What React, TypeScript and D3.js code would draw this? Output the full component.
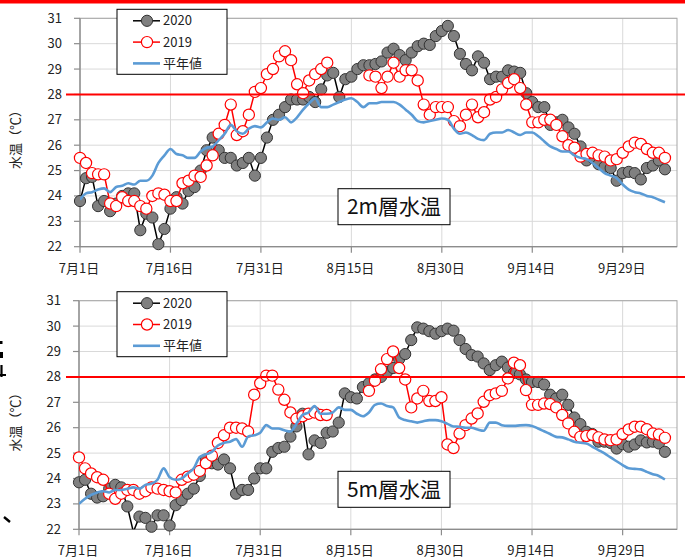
import React from "react";
import * as d3 from "d3";

// x axis: day index from 7月1日
const tickDays = [0, 15, 30, 45, 60, 75, 90];
const tickLabels = ["7月1日", "7月16日", "7月31日", "8月15日", "8月30日", "9月14日", "9月29日"];
const yTicks = [22, 23, 24, 25, 26, 27, 28, 29, 30, 31];
const seriesNames = ["2020", "2019", "平年値"];
const warnLine = 28;

// 2m層
const top2020 = [
  23.8, 24.7, 24.75, 23.6, 23.8, 23.4, 23.7, 24.0, 24.1, 24.1,
  22.65, 23.3, 23.15, 22.1, 22.7, 23.5, 23.95, 23.7, 24.2, 24.35,
  25.0, 25.8, 26.3, 25.8, 25.5, 25.5, 25.2, 25.3, 25.5, 24.8,
  25.5, 26.3, 27.0, 27.2, 27.5, 27.8, 27.8, 27.8, 27.9, 27.7,
  28.2, 28.75, 28.85, 27.9, 28.6, 28.7, 29.0, 29.15, 29.15, 29.2,
  29.3, 29.65, 29.8, 29.55, 29.35, 29.65, 29.9, 30.0, 29.95, 30.3,
  30.5, 30.7, 30.3, 29.6, 29.2, 28.95, 29.5, 29.25, 28.6, 28.7,
  28.7, 28.95, 28.9, 28.85, 28.05, 27.7, 27.5, 27.5, 26.8, 26.9,
  27.0, 26.7, 26.45, 25.95, 25.4, 25.5, 25.25, 25.15, 25.1, 24.6,
  24.9, 24.95, 24.9, 24.65, 25.1, 25.2, 25.4, 25.05,
];
const top2019 = [
  25.5, 25.3, 24.9, 24.85, 24.85, 23.7, 23.6, 23.95, 23.8, 23.8,
  23.6, 23.5, 24.0, 24.1, 24.05, 23.8, 23.8, 24.5, 24.6, 24.8,
  24.75, 25.2, 25.6, 26.45, 26.8, 27.6, 26.4, 26.55, 27.2, 28.1,
  28.25, 28.8, 29.0, 29.5, 29.7, 29.35, 28.4, 28.05, 28.55, 28.8,
  29.0, 29.25, null, null, null, null, null, null, 28.75, 28.7,
  28.25, 28.7, 29.25, 28.7, 28.95, 28.95, 28.55, 27.6, 27.2, 27.5,
  27.5, 27.5, 26.95, 26.75, 27.2, 27.6, 27.1, 27.3, 27.8, 27.9,
  28.2, 28.45, 28.6, 28.25, 27.6, 26.9, 26.9, 27.0, 27.0, 26.8,
  26.35, 26.0, 25.9, 25.55, 25.65, 25.7, 25.6, 25.55, 25.4, 25.45,
  25.7, 25.95, 26.1, 26.05, 25.85, 25.7, 25.7, 25.5,
];
const topNormal = [
  23.85, 24.1, 24.15, 24.25, 24.3, 24.15, 24.35, 24.4, 24.5, 24.45,
  24.6, 24.6, 24.8, 25.3, 25.6, 25.85, 25.65, 25.6, 25.5, 25.5,
  25.75, 25.9, 25.95, 26.2, 26.45, 26.8, 26.55, 26.45, 26.65, 26.75,
  26.7, 26.9, 27.05, 27.0, 27.1, 26.9, 27.1, 27.4, 27.65, 27.85,
  27.5, 27.5, 27.6, 27.7, 27.8, 27.85, 27.7, 27.5, 27.65, 27.65,
  27.7, 27.7, 27.7, 27.6, 27.4, 27.2, 26.95, 26.9, 26.95, 27.0,
  27.05, 27.0, 26.65, 26.45, 26.5, 26.4, 26.25, 26.2, 26.45, 26.5,
  26.5, 26.6, 26.5, 26.4, 26.5, 26.5, 26.35, 26.15, 25.95, 25.85,
  25.75, 25.75, 25.6, 25.5, 25.45, 25.3, 25.1, 24.9, 24.8, 24.7,
  24.45, 24.25, 24.15, 24.1, 24.0, 23.95, 23.85, 23.75,
];

// 5m層
const bot2020 = [
  23.85, 23.95, 23.4, 23.25, 23.3, 23.6, 23.75, 23.65, 22.9, 21.9,
  22.5, 22.45, 22.1, 22.55, 22.55, 22.15, 22.95, 23.15, 23.4, 23.6,
  24.1, 24.75, 24.6, 24.55, 24.75, 24.4, 23.4, 23.55, 23.55, 24.0,
  24.4, 24.4, 25.05, 25.2, 25.25, 25.65, 26.05, 26.55, 24.95, 25.5,
  25.4, 25.8, 25.85, 26.2, 27.35, 27.2, 27.15, 27.6, 27.75, 27.9,
  28.0, 28.2, 28.35, 28.7, 28.9, 29.45, 29.95, 29.9, 29.8, 29.7,
  29.8, 29.9, 29.82, 29.45, 29.1, 28.86, 28.8, 28.53, 28.27, 28.46,
  28.6, 28.37, 28.16, 28.1, 27.9, 27.8, 27.8, 27.7, 27.3, 27.15,
  27.3, 26.9, 26.4, 26.14, 25.84, 25.75, 25.45, 25.45, 25.4, 25.18,
  25.35, 25.25, 25.34, 25.5, 25.42, 25.45, 25.38, 25.05,
];
const bot2019 = [
  24.83, 24.4, 24.2, 24.05, 23.95, 23.4, 23.2, 23.4, 23.55, 23.55,
  23.4, 23.5, 23.65, 23.6, 23.55, 23.5, 23.45, 23.95, 24.07, 24.15,
  24.3, 24.6, 24.9, 25.4, 25.7, 26.0, 26.0, 25.97, 25.85, 27.3,
  27.75, 28.05, 28.05, 27.5, 27.1, 26.6, 26.35, 26.45, 26.55, 26.6,
  26.5, 26.5, null, null, null, null, null, null, 27.45, 27.85,
  28.3, 28.7, 29.0, 28.35, 27.9, 26.8, 27.15, 27.45, 27.05, 27.05,
  27.2, 25.34, 25.2, 25.77, 26.1, 26.36, 26.56, 27.02, 27.28, 27.35,
  27.45, 27.94, 28.56, 28.46, 27.48, 26.9, 26.9, 26.95, 26.93, 26.8,
  26.5, 26.17, 25.84, 25.64, 25.67, 25.71, 25.62, 25.54, 25.51, 25.54,
  25.75, 25.93, 26.04, 26.04, 25.94, 25.77, 25.73, 25.6,
];
const botNormal = [
  23.0, 23.2, 23.35, 23.45, 23.5, 23.45, 23.55, 23.55, 23.6, 23.65,
  23.6, 23.75, 23.8, 23.95, 24.4, 24.05, 23.95, 24.0, 24.2, 24.4,
  24.85, 24.95, 25.05, 25.3, 25.4, 25.45, 25.55, 25.25, 25.65, 25.7,
  25.8, 26.1, 25.97, 25.97, 25.9, 25.85, 26.15, 26.5, 26.6, 26.85,
  26.55, 26.55, 26.6, 26.8, 26.7, 26.7, 26.55, 26.45, 26.6, 26.9,
  26.95, 26.85, 26.8, 26.4, 26.3, 26.25, 26.2, 26.25, 26.3, 26.3,
  26.25, 26.15, 26.05, 26.04, 26.0, 26.0, 25.93, 25.88, 26.2, 26.2,
  26.1, 26.07, 26.07, 26.09, 26.1, 26.07, 25.97, 25.86, 25.75, 25.64,
  25.62, 25.54, 25.45, 25.41, 25.38, 25.25, 25.12, 24.99, 24.83, 24.68,
  24.53, 24.4, 24.38, 24.36, 24.26, 24.17, 24.1, 23.96,
];

const FONT = "'Noto Sans CJK JP', 'Noto Sans', sans-serif";
const BLUE = "#5b9bd5";
const GRID = "#d9d9d9";
const AXIS = "#8c8c8c";

type Val = number | null;

interface PanelProps {
  id: string;
  left: number;
  right: number;
  top: number;
  bottom: number;
  s2020: Val[];
  s2019: Val[];
  normal: Val[];
  title: string;
}

const Panel: React.FC<PanelProps> = ({ id, left, right, top, bottom, s2020, s2019, normal, title }) => {
  const x = d3.scaleLinear().domain([0, 99]).range([left, right]);
  const y = d3.scaleLinear().domain([22, 31]).range([bottom, top]);

  const line = d3
    .line<Val>()
    .defined((d) => d != null)
    .x((_, i) => x(i))
    .y((d) => y(d as number));
  const smooth = d3
    .line<Val>()
    .defined((d) => d != null)
    .curve(d3.curveMonotoneX)
    .x((_, i) => x(i))
    .y((d) => y(d as number));

  // markers below the axis minimum are not drawn
  const pts = (arr: Val[]) =>
    arr
      .map((v, i) => ({ v, i }))
      .filter((p) => p.v != null && (p.v as number) >= 22);

  const legX = 117;
  const legY = top - 9;

  return (
    <g>
      <defs>
        <clipPath id={`clip-${id}`}>
          <rect x={left} y={top} width={right - left} height={bottom - top} />
        </clipPath>
      </defs>

      {/* grid */}
      {yTicks.map((t) => (
        <line key={`gy${t}`} x1={left} x2={right} y1={y(t)} y2={y(t)} stroke={GRID} strokeWidth={1} />
      ))}
      {tickDays.map((d) => (
        <line key={`gx${d}`} x1={x(d)} x2={x(d)} y1={top} y2={bottom} stroke={GRID} strokeWidth={1} />
      ))}
      <rect x={left} y={top} width={right - left} height={bottom - top} fill="none" stroke="#a6a6a6" strokeWidth={1} />

      {/* axes */}
      <line x1={left} x2={left} y1={top} y2={bottom} stroke={AXIS} strokeWidth={1.2} />
      <line x1={left} x2={right} y1={bottom} y2={bottom} stroke={AXIS} strokeWidth={1.2} />
      {yTicks.map((t) => (
        <g key={`yt${t}`}>
          <line x1={left - 6} x2={left} y1={y(t)} y2={y(t)} stroke={AXIS} strokeWidth={1.2} />
          <text x={left - 18} y={y(t)} dy="0.35em" textAnchor="end" fontSize={13} fontFamily={FONT} fill="#222">
            {t}
          </text>
        </g>
      ))}
      {tickDays.map((d, i) => (
        <g key={`xt${d}`}>
          <line x1={x(d)} x2={x(d)} y1={bottom} y2={bottom + 6} stroke={AXIS} strokeWidth={1.2} />
          <text x={x(d) - 1} y={bottom + 26} textAnchor="middle" fontSize={13} fontFamily={FONT} fill="#222">
            {tickLabels[i]}
          </text>
        </g>
      ))}
      <text
        transform={`translate(20,${(top + bottom) / 2 + 4}) rotate(-90)`}
        textAnchor="middle"
        fontSize={13}
        fontFamily={FONT}
        fill="#222"
      >
        水温（℃）
      </text>

      {/* series */}
      <g clipPath={`url(#clip-${id})`}>
        <path d={line(s2020) ?? ""} fill="none" stroke="#000" strokeWidth={1.5} />
      </g>
      {pts(s2020).map((p) => (
        <circle key={`a${p.i}`} cx={x(p.i)} cy={y(p.v as number)} r={5.6} fill="#808080" stroke="#333" strokeWidth={1} />
      ))}
      <g clipPath={`url(#clip-${id})`}>
        <path d={line(s2019) ?? ""} fill="none" stroke="#ff0000" strokeWidth={1.5} />
      </g>
      {pts(s2019).map((p) => (
        <circle key={`b${p.i}`} cx={x(p.i)} cy={y(p.v as number)} r={5.6} fill="#fff" stroke="#ff0000" strokeWidth={1.2} />
      ))}
      <g clipPath={`url(#clip-${id})`}>
        <path d={smooth(normal) ?? ""} fill="none" stroke={BLUE} strokeWidth={2.6} />
      </g>

      {/* 28℃ line */}
      <line x1={66} x2={685} y1={y(warnLine)} y2={y(warnLine)} stroke="#ff0000" strokeWidth={2} />

      {/* legend */}
      <rect x={legX} y={legY} width={110} height={65} fill="#fff" stroke="#000" strokeWidth={1} />
      {seriesNames.map((name, i) => {
        const ly = legY + 11.5 + i * 21.3;
        return (
          <g key={name}>
            <line
              x1={legX + 16}
              x2={legX + 43}
              y1={ly}
              y2={ly}
              stroke={i === 0 ? "#000" : i === 1 ? "#ff0000" : BLUE}
              strokeWidth={i === 2 ? 2.6 : 1.5}
            />
            {i === 0 && <circle cx={legX + 30} cy={ly} r={5.6} fill="#808080" stroke="#333" strokeWidth={1} />}
            {i === 1 && <circle cx={legX + 30} cy={ly} r={5.6} fill="#fff" stroke="#ff0000" strokeWidth={1.2} />}
            <text x={legX + 46} y={ly} dy="0.36em" fontSize={13} fontFamily={FONT} fill="#222">
              {name}
            </text>
          </g>
        );
      })}

      {/* title box */}
      <rect x={338} y={bottom - 58} width={112} height={36} fill="#fff" stroke="#000" strokeWidth={1} />
      <text x={394} y={bottom - 40} dy="0.36em" textAnchor="middle" fontSize={21} fontFamily={FONT} fill="#111">
        {title}
      </text>
    </g>
  );
};

export default function App() {
  return (
    <svg
      width={685}
      height={559}
      viewBox="0 0 685 559"
      style={{ position: "absolute", left: 0, top: 0, background: "#fff" }}
    >
      <rect x={0} y={0} width={685} height={559} fill="#fff" />
      <rect x={0} y={0} width={685} height={3.5} fill="#ff0000" />
      <Panel id="p2" left={80} right={677} top={18.3} bottom={246.7} s2020={top2020} s2019={top2019} normal={topNormal} title="2m層水温" />
      <Panel id="p5" left={79} right={677} top={300.7} bottom={529.3} s2020={bot2020} s2019={bot2019} normal={botNormal} title="5m層水温" />
      {/* cropped text fragments at left edge */}
      <rect x={0} y={341} width={2.5} height={3} fill="#000" />
      <rect x={0} y={352} width={3} height={6} fill="#000" />
      <line x1={1.5} x2={1.5} y1={365} y2={377} stroke="#000" strokeWidth={2.2} />
      <line x1={0} x2={6} y1={375} y2={375} stroke="#000" strokeWidth={2} />
      <line x1={4} x2={10} y1={517} y2={522} stroke="#000" strokeWidth={2.4} />
    </svg>
  );
}
